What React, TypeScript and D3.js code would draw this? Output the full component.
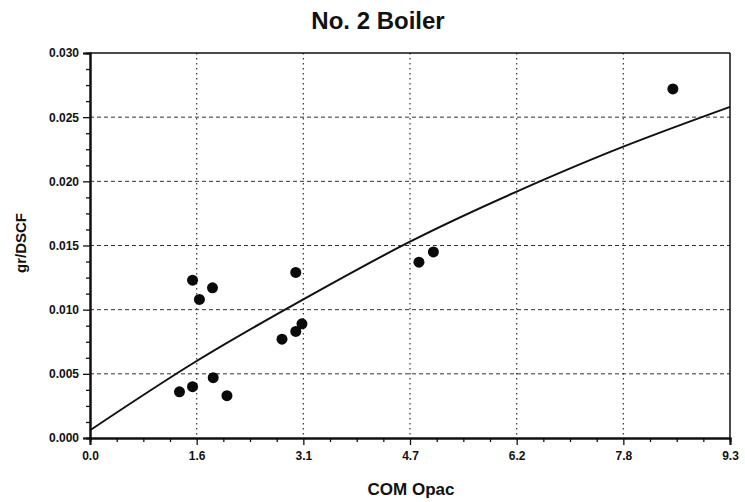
import React, { useEffect, useRef } from 'react';
import * as d3 from 'd3';

const xTicks = [0, 1.55, 3.1, 4.65, 6.2, 7.75, 9.3];
const xTickLabels = ['0.0', '1.6', '3.1', '4.7', '6.2', '7.8', '9.3'];
const yTicks = [0, 0.005, 0.01, 0.015, 0.02, 0.025, 0.03];
const yTickLabels = ['0.000', '0.005', '0.010', '0.015', '0.020', '0.025', '0.030'];

// measured points (COM opacity vs grain loading)
const opac = [1.49, 1.78, 1.59, 2.99, 3.08, 2.99, 2.79, 1.79, 1.49, 1.3, 1.99, 8.47, 4.99, 4.78];
const grDscf = [0.0123, 0.0117, 0.0108, 0.0129, 0.0089, 0.0083, 0.0077, 0.0047, 0.004, 0.0036, 0.0033, 0.0272, 0.0145, 0.0137];

// fitted curve, read at the major ticks
const fitX = [0, 1.55, 3.1, 4.65, 6.2, 7.75, 9.3];
const fitY = [0.0006, 0.006, 0.0108, 0.0153, 0.0192, 0.0227, 0.0258];

export default function App() {
  const svgRef = useRef<SVGSVGElement>(null);

  const width = 745;
  const height = 502;
  const margin = { top: 53, right: 15, bottom: 64, left: 90 };
  const innerWidth = width - margin.left - margin.right;
  const innerHeight = height - margin.top - margin.bottom;

  useEffect(() => {
    const svg = d3.select(svgRef.current);
    svg.selectAll('*').remove();

    const xScale = d3.scaleLinear().domain([0, 9.3]).range([0, innerWidth]);
    const yScale = d3.scaleLinear().domain([0, 0.03]).range([innerHeight, 0]);

    const g = svg
      .append('g')
      .attr('transform', `translate(${margin.left},${margin.top})`);

    // minor tick positions: 4 steps between majors
    const minor = (ticks: number[]) => {
      const out: number[] = [];
      for (let i = 0; i < ticks.length - 1; i++) {
        const step = (ticks[i + 1] - ticks[i]) / 4;
        for (let k = 1; k < 4; k++) out.push(ticks[i] + step * k);
      }
      return out;
    };

    // grid
    g.append('g')
      .selectAll('line')
      .data(yTicks.slice(1, -1))
      .enter()
      .append('line')
      .attr('x1', 0)
      .attr('x2', innerWidth)
      .attr('y1', (d) => yScale(d))
      .attr('y2', (d) => yScale(d))
      .style('stroke', '#333')
      .style('stroke-width', 1)
      .style('stroke-dasharray', '4,3');

    g.append('g')
      .selectAll('line')
      .data(xTicks.slice(1, -1))
      .enter()
      .append('line')
      .attr('x1', (d) => xScale(d))
      .attr('x2', (d) => xScale(d))
      .attr('y1', 0)
      .attr('y2', innerHeight)
      .style('stroke', '#333')
      .style('stroke-width', 1.2)
      .style('stroke-dasharray', '1.5,3.5');

    // frame top and right
    g.append('line')
      .attr('x1', 0)
      .attr('x2', innerWidth)
      .attr('y1', 0)
      .attr('y2', 0)
      .style('stroke', '#111')
      .style('stroke-width', 1.5);
    g.append('line')
      .attr('x1', innerWidth)
      .attr('x2', innerWidth)
      .attr('y1', 0)
      .attr('y2', innerHeight)
      .style('stroke', '#111')
      .style('stroke-width', 1.5);

    // axes
    const xAxis = d3
      .axisBottom(xScale)
      .tickValues(xTicks)
      .tickSize(7)
      .tickPadding(6)
      .tickFormat((_d, i) => xTickLabels[i]);
    const xMinor = d3
      .axisBottom(xScale)
      .tickValues(minor(xTicks))
      .tickSize(4)
      .tickFormat(() => '');
    const yAxis = d3
      .axisLeft(yScale)
      .tickValues(yTicks)
      .tickSize(7)
      .tickPadding(4)
      .tickFormat((_d, i) => yTickLabels[i]);
    const yMinor = d3
      .axisLeft(yScale)
      .tickValues(minor(yTicks))
      .tickSize(4)
      .tickFormat(() => '');

    const styleAxis = (sel: any) => {
      sel.select('.domain').style('stroke', '#111').style('stroke-width', 2);
      sel.selectAll('.tick line').style('stroke', '#111').style('stroke-width', 1.3);
      sel
        .selectAll('text')
        .style('font-family', 'Liberation Sans, Arial, sans-serif')
        .style('font-size', '12px')
        .style('font-weight', 'bold')
        .style('fill', '#111');
    };

    g.append('g').attr('transform', `translate(0,${innerHeight})`).call(xMinor).call(styleAxis);
    g.append('g').attr('transform', `translate(0,${innerHeight})`).call(xAxis).call(styleAxis);
    g.append('g').call(yMinor).call(styleAxis);
    g.append('g').call(yAxis).call(styleAxis);

    // fit curve
    const fitData = fitX.map((x, i) => ({ x, y: fitY[i] }));
    g.append('path')
      .datum(fitData)
      .attr(
        'd',
        d3
          .line<{ x: number; y: number }>()
          .x((d) => xScale(d.x))
          .y((d) => yScale(d.y))
          .curve(d3.curveNatural)
      )
      .style('fill', 'none')
      .style('stroke', '#111')
      .style('stroke-width', 2);

    // points
    g.append('g')
      .selectAll('circle')
      .data(opac.map((x, i) => ({ x, y: grDscf[i] })))
      .enter()
      .append('circle')
      .attr('cx', (d) => xScale(d.x))
      .attr('cy', (d) => yScale(d.y))
      .attr('r', 5.5)
      .style('fill', '#0a0a0a');

    // titles
    svg
      .append('text')
      .attr('x', 378)
      .attr('y', 29)
      .attr('text-anchor', 'middle')
      .style('font-family', 'Liberation Sans, Arial, sans-serif')
      .style('font-size', '24px')
      .style('font-weight', 'bold')
      .style('fill', '#111')
      .text('No. 2 Boiler');

    svg
      .append('text')
      .attr('x', 411)
      .attr('y', 495)
      .attr('text-anchor', 'middle')
      .style('font-family', 'Liberation Sans, Arial, sans-serif')
      .style('font-size', '17px')
      .style('font-weight', 'bold')
      .style('fill', '#111')
      .text('COM Opac');

    svg
      .append('text')
      .attr('transform', 'translate(26,243) rotate(-90)')
      .attr('text-anchor', 'middle')
      .style('font-family', 'Liberation Sans, Arial, sans-serif')
      .style('font-size', '15px')
      .style('font-weight', 'bold')
      .style('fill', '#111')
      .text('gr/DSCF');
  }, [innerWidth, innerHeight, margin.left, margin.top]);

  return (
    <div>
      <svg
        ref={svgRef}
        width={width}
        height={height}
        style={{ position: 'absolute', left: 0, top: 0, background: '#fff' }}
      />
    </div>
  );
}
